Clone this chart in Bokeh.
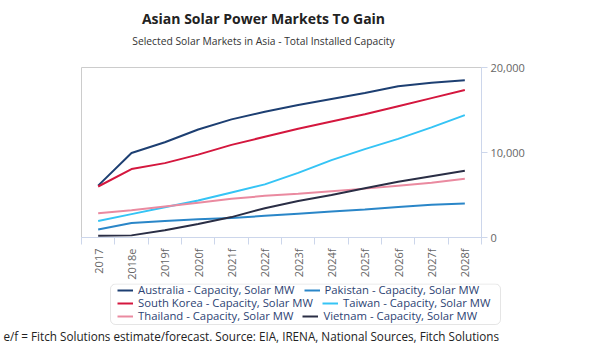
import math
from bokeh.plotting import figure
from bokeh.layouts import column
from bokeh.models import (Legend, LegendItem, FixedTicker, Range1d, NumeralTickFormatter,
                          Label, BoxAnnotation)
from bokeh.embed import file_html
from bokeh.resources import INLINE

categories = ["2017", "2018e", "2019f", "2020f", "2021f", "2022f",
              "2023f", "2024f", "2025f", "2026f", "2027f", "2028f"]
australia = [6100, 9950, 11200, 12700, 13900, 14800, 15600, 16300, 17000, 17800, 18200, 18500]
pakistan = [950, 1700, 1950, 2150, 2300, 2550, 2800, 3050, 3300, 3600, 3850, 4000]
south_korea = [6000, 8050, 8750, 9750, 10900, 11850, 12800, 13650, 14500, 15450, 16400, 17350]
taiwan = [1950, 2750, 3550, 4350, 5300, 6250, 7600, 9100, 10400, 11600, 12950, 14400]
thailand = [2850, 3200, 3650, 4100, 4550, 4900, 5150, 5450, 5750, 6100, 6450, 6900]
vietnam = [200, 250, 850, 1600, 2400, 3450, 4300, 5000, 5800, 6550, 7200, 7850]
y_ticks = [0, 10000, 20000]

series = [
    ("Australia - Capacity, Solar MW", australia, "#1d3f72"),
    ("Pakistan - Capacity, Solar MW", pakistan, "#2a86c8"),
    ("South Korea - Capacity, Solar MW", south_korea, "#d4173e"),
    ("Taiwan - Capacity, Solar MW", taiwan, "#35c4f5"),
    ("Thailand - Capacity, Solar MW", thailand, "#ea8aa0"),
    ("Vietnam - Capacity, Solar MW", vietnam, "#2a2e45"),
]

FONT = "Open Sans"
W = 584
xs = list(range(len(categories)))


def no_align(f):
    if "frame_align" in f.properties():
        f.frame_align = False
    return f


def blank(h):
    f = figure(width=W, height=h, output_backend="svg", toolbar_location=None,
               x_range=Range1d(0, W), y_range=Range1d(0, h),
               x_axis_type=None, y_axis_type=None,
               min_border=0, min_border_left=0, min_border_right=0,
               min_border_top=0, min_border_bottom=0)
    f.grid.visible = False
    f.outline_line_color = None
    f.background_fill_color = "white"
    f.border_fill_color = "white"
    return no_align(f)


# ---- header ----
TOP_H = 60
top = blank(TOP_H)
top.add_layout(Label(x=263, y=TOP_H - 18, x_units="screen", y_units="screen",
                     text="Asian Solar Power Markets To Gain", text_align="center",
                     text_baseline="middle", text_font=FONT, text_font_size="14px",
                     text_font_style="bold", text_color="#222222"))
top.add_layout(Label(x=263, y=TOP_H - 40, x_units="screen", y_units="screen",
                     text="Selected Solar Markets in Asia - Total Installed Capacity",
                     text_align="center", text_baseline="middle", text_font=FONT,
                     text_font_size="10.3px", text_color="#333333"))

# ---- main chart ----
MAIN_H = 223
p = figure(width=W, height=MAIN_H, output_backend="svg", toolbar_location=None,
           x_range=Range1d(-0.5, len(categories) - 0.5), y_range=Range1d(0, 20000),
           y_axis_location="right",
           min_border_left=81, min_border_right=103, min_border_top=7, min_border_bottom=46)
no_align(p)
p.grid.visible = False
p.outline_line_color = "#cccccc"
p.background_fill_color = "white"
p.border_fill_color = "white"

for name, vals, col in series:
    p.line(xs, vals, line_color=col, line_width=2)

xa = p.xaxis[0]
xa.ticker = FixedTicker(ticks=xs, minor_ticks=[i - 0.5 for i in range(len(categories) + 1)])
xa.major_label_overrides = {i: c for i, c in enumerate(categories)}
xa.major_label_orientation = math.pi / 2
xa.major_tick_out = 0
xa.major_tick_in = 0
xa.minor_tick_out = 7
xa.minor_tick_in = 0
xa.minor_tick_line_color = "#ccd6eb"
xa.axis_line_color = "#ccd6eb"
xa.major_label_text_font = FONT
xa.major_label_text_font_size = "11px"
xa.major_label_text_color = "#666666"
xa.major_label_standoff = 4

ya = p.yaxis[0]
ya.ticker = FixedTicker(ticks=y_ticks, minor_ticks=[])
ya.formatter = NumeralTickFormatter(format="0,0")
ya.major_tick_out = 6
ya.major_tick_in = 0
ya.minor_tick_out = 0
ya.minor_tick_in = 0
ya.major_tick_line_color = "#ccd6eb"
ya.axis_line_color = "#ccd6eb"
ya.major_label_text_font = FONT
ya.major_label_text_font_size = "11px"
ya.major_label_text_color = "#666666"
ya.major_label_standoff = 3

# ---- legend + footer ----
BOT_H = 344 - TOP_H - MAIN_H
bot = blank(BOT_H)
ROW_H = 13
PAD = 1
box = BoxAnnotation(left=110, right=500, bottom=BOT_H - (2 * PAD + 3 * ROW_H), top=BOT_H - 0.5,
                    fill_color="white", fill_alpha=0,
                    line_color="#aaaaaa", line_width=1)
if "border_radius" in BoxAnnotation.properties():
    box.border_radius = 5
bot.add_layout(box)

# legend proxies: the same series, drawn far outside this strip's visible range
renderers = []
for name, vals, col in series:
    renderers.append((name, bot.line(xs, vals, line_color=col, line_width=2)))

for row in range(3):
    row_items = [LegendItem(label=n, renderers=[r]) for n, r in renderers[2 * row: 2 * row + 2]]
    lg = Legend(items=row_items, location=(117, BOT_H - (PAD + ROW_H * (row + 1))),
                orientation="horizontal",
                label_text_font=FONT, label_text_font_size="11.3px", label_text_color="#2d4373",
                glyph_width=16, glyph_height=12, label_standoff=5, spacing=9,
                padding=0, margin=0, label_height=ROW_H,
                border_line_color=None, background_fill_alpha=0)
    bot.add_layout(lg, "center")

bot.add_layout(Label(x=3, y=9, x_units="screen", y_units="screen",
                     text="e/f = Fitch Solutions estimate/forecast. Source: EIA, IRENA, National Sources, Fitch Solutions",
                     text_align="left", text_baseline="alphabetic", text_font=FONT,
                     text_font_size="11.7px", text_color="#222222"))

layout = column(top, p, bot, spacing=0)
open("out.html", "w").write(file_html(layout, INLINE))
